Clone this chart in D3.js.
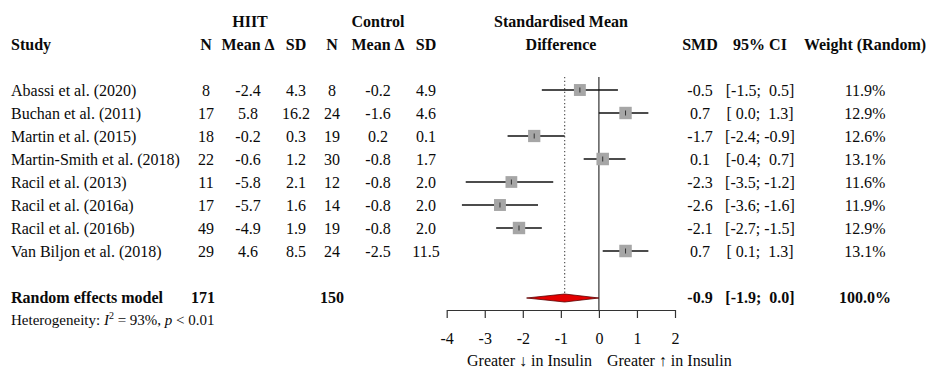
<!DOCTYPE html>
<html>
<head>
<meta charset="utf-8">
<script src="https://cdn.jsdelivr.net/npm/d3@7"></script>
<style>
  html, body { margin: 0; padding: 0; background: #fff; }
  svg text { font-family: "Liberation Serif", "Times New Roman", serif; fill: #0a0a0a; white-space: pre; }
</style>
</head>
<body>
<svg id="chart" width="927" height="370"></svg>
<script>
// ---------------- DATA ----------------
const studies = ["Abassi et al. (2020)", "Buchan et al. (2011)", "Martin et al. (2015)",
  "Martin-Smith et al. (2018)", "Racil et al. (2013)", "Racil et al. (2016a)",
  "Racil et al. (2016b)", "Van Biljon et al. (2018)"];
const hiitN    = [8, 17, 18, 22, 11, 17, 49, 29];
const hiitMean = [-2.4, 5.8, -0.2, -0.6, -5.8, -5.7, -4.9, 4.6];
const hiitSD   = [4.3, 16.2, 0.3, 1.2, 2.1, 1.6, 1.9, 8.5];
const ctrlN    = [8, 24, 19, 30, 12, 14, 19, 24];
const ctrlMean = [-0.2, -1.6, 0.2, -0.8, -0.8, -0.8, -0.8, -2.5];
const ctrlSD   = [4.9, 4.6, 0.1, 1.7, 2.0, 2.0, 2.0, 11.5];
const smd      = [-0.5, 0.7, -1.7, 0.1, -2.3, -2.6, -2.1, 0.7];
const ciLow    = [-1.5, 0.0, -2.4, -0.4, -3.5, -3.6, -2.7, 0.1];
const ciHigh   = [0.5, 1.3, -0.9, 0.7, -1.2, -1.6, -1.5, 1.3];
const weights  = [11.9, 12.9, 12.6, 13.1, 11.6, 11.9, 12.9, 13.1];
const pooledLabel = "Random effects model";
const pooledN  = [171, 150];
const pooledSMD = -0.9;
const pooledCI = [-1.9, 0.0];
const pooledWeight = 100.0;
const heterogeneityI2 = 93;
const heterogeneityP = "0.01";
const axisTicks = [-4, -3, -2, -1, 0, 1, 2];
const leftLabel = "Greater \u2193 in Insulin";
const rightLabel = "Greater \u2191 in Insulin";

// ---------------- LAYOUT ----------------
const svg = d3.select("#chart");
const x = d3.scaleLinear().domain([-4, 2]).range([446.7, 675]);
const row = d3.scaleLinear().domain([0, 1]).range([96, 119]); // baseline of row index
const FS = 16;
const col = { study: 11, n1: 206, m1: 248, sd1: 296, n2: 332, m2: 378, sd2: 426,
              plot: 561, smd: 700, ci: 760, w: 865 };
const axisY = 310;

function txt(xp, yp, s, opts = {}) {
  return svg.append("text")
    .attr("x", xp).attr("y", yp)
    .attr("text-anchor", opts.anchor || "middle")
    .attr("font-size", opts.size || FS)
    .attr("font-weight", opts.bold ? "bold" : "normal")
    .text(s);
}
const f1 = v => v.toFixed(1);
const pad = v => (v >= 0 ? " " : "") + v.toFixed(1);
const ciFmt = (lo, hi) => "[" + pad(lo) + "; " + pad(hi) + "]";

// ---------------- HEADERS ----------------
txt(250, row(-3), "HIIT", { bold: true });
txt(378, row(-3), "Control", { bold: true });
txt(col.plot, row(-3), "Standardised Mean", { bold: true });
txt(col.study, row(-2), "Study", { bold: true, anchor: "start" });
[["N", col.n1], ["Mean \u0394", col.m1], ["SD", col.sd1],
 ["N", col.n2], ["Mean \u0394", col.m2], ["SD", col.sd2],
 ["Difference", col.plot], ["SMD", col.smd], ["95% CI", col.ci], ["Weight (Random)", col.w]]
  .forEach(([s, xp]) => txt(xp, row(-2), s, { bold: true }));

// ---------------- STUDY ROWS ----------------
studies.forEach((s, i) => {
  const y = row(i);
  txt(col.study, y, s, { anchor: "start" });
  txt(col.n1, y, String(hiitN[i]));
  txt(col.m1, y, f1(hiitMean[i]));
  txt(col.sd1, y, f1(hiitSD[i]));
  txt(col.n2, y, String(ctrlN[i]));
  txt(col.m2, y, f1(ctrlMean[i]));
  txt(col.sd2, y, f1(ctrlSD[i]));
  txt(col.smd, y, f1(smd[i]));
  txt(col.ci, y, ciFmt(ciLow[i], ciHigh[i]));
  txt(col.w, y, f1(weights[i]) + "%");
});

// pooled row
const pr = 9;
txt(col.study, row(pr), pooledLabel, { anchor: "start", bold: true });
txt(col.n1 - 3, row(pr), String(pooledN[0]), { bold: true });
txt(col.n2, row(pr), String(pooledN[1]), { bold: true });
txt(col.smd, row(pr), f1(pooledSMD), { bold: true });
txt(col.ci, row(pr), ciFmt(pooledCI[0], pooledCI[1]), { bold: true });
txt(col.w, row(pr), f1(pooledWeight) + "%", { bold: true });

// heterogeneity
const het = svg.append("text").attr("x", col.study).attr("y", row(10) - 1)
  .attr("font-size", 15);
het.append("tspan").text("Heterogeneity: ");
het.append("tspan").attr("font-style", "italic").text("I");
het.append("tspan").attr("font-size", 10).attr("dy", -6).text("2");
het.append("tspan").attr("dy", 6).text(" = " + heterogeneityI2 + "%, ");
het.append("tspan").attr("font-style", "italic").text("p");
het.append("tspan").text(" < " + heterogeneityP);

// ---------------- FOREST PLOT ----------------
const ctr = i => row(i) - 6;
const topY = ctr(0) - 13;

// reference line at 0
svg.append("line").attr("x1", x(0)).attr("x2", x(0))
  .attr("y1", topY).attr("y2", axisY)
  .attr("stroke", "#333").attr("stroke-width", 1.2);
// pooled estimate dotted line
svg.append("line").attr("x1", x(pooledSMD)).attr("x2", x(pooledSMD))
  .attr("y1", topY).attr("y2", ctr(pr) - 3)
  .attr("stroke", "#555").attr("stroke-width", 1.2).attr("stroke-dasharray", "1.3,2.4");

// CI lines
svg.append("g").selectAll("line").data(studies).join("line")
  .attr("x1", (d, i) => x(ciLow[i])).attr("x2", (d, i) => x(ciHigh[i]))
  .attr("y1", (d, i) => ctr(i)).attr("y2", (d, i) => ctr(i))
  .attr("stroke", "#111").attr("stroke-width", 1.3);

// squares
const maxW = d3.max(weights);
const side = d3.scaleSqrt().domain([0, maxW]).range([0, 12.5]);
svg.append("g").selectAll("rect").data(studies).join("rect")
  .attr("x", (d, i) => x(smd[i]) - side(weights[i]) / 2)
  .attr("y", (d, i) => ctr(i) - side(weights[i]) / 2)
  .attr("width", (d, i) => side(weights[i]))
  .attr("height", (d, i) => side(weights[i]))
  .attr("fill", "#a6a6a6");
// point-estimate ticks
svg.append("g").selectAll("line").data(studies).join("line")
  .attr("x1", (d, i) => x(smd[i])).attr("x2", (d, i) => x(smd[i]))
  .attr("y1", (d, i) => ctr(i) - 2.5).attr("y2", (d, i) => ctr(i) + 2.5)
  .attr("stroke", "#333").attr("stroke-width", 1);

// diamond
const dy = ctr(pr) + 1;
svg.append("polygon")
  .attr("points", [
    [x(pooledCI[0]), dy], [x(pooledSMD), dy - 4],
    [x(pooledCI[1]), dy], [x(pooledSMD), dy + 4]].map(p => p.join(",")).join(" "))
  .attr("fill", "#e30000").attr("stroke", "#5a0000").attr("stroke-width", 0.8);

// axis
const axis = d3.axisBottom(x).tickValues(axisTicks).tickFormat(d => String(d))
  .tickSize(8).tickSizeOuter(0).tickPadding(15);
const ag = svg.append("g").attr("transform", `translate(0,${axisY})`).call(axis);
ag.select(".domain").attr("stroke", "#333").attr("stroke-width", 1.2);
ag.selectAll(".tick line").attr("stroke", "#333").attr("stroke-width", 1.2);
ag.selectAll(".tick text")
  .attr("font-family", "Liberation Serif, Times New Roman, serif")
  .attr("font-size", FS).attr("fill", "#0a0a0a");

txt(x(0) - 7, 366, leftLabel, { anchor: "end" });
txt(x(0) + 8, 366, rightLabel, { anchor: "start" });
</script>
</body>
</html>
